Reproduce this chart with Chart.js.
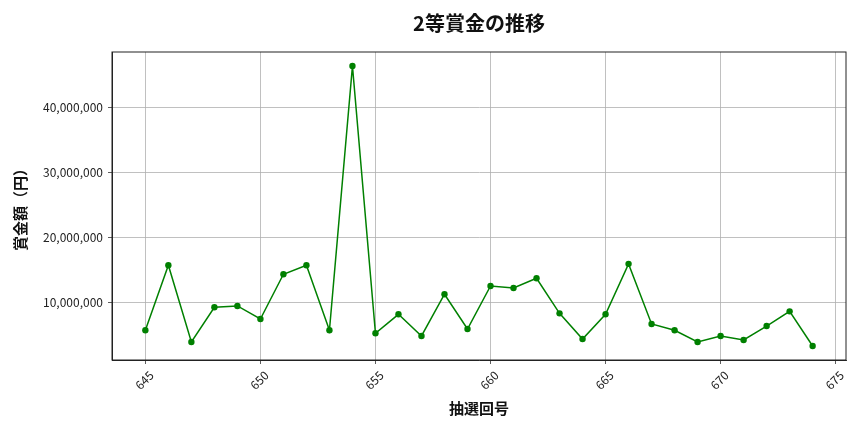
<!DOCTYPE html>
<html><head><meta charset="utf-8">
<script src="https://cdn.jsdelivr.net/npm/chart.js@4"></script>
<style>html,body{margin:0;padding:0;background:#fff}#wrap{width:864px;height:432px}</style>
</head><body><div id="wrap"><canvas id="c"></canvas></div>
<script>
const draws = [645,646,647,648,649,650,651,652,653,654,655,656,657,658,659,660,661,662,663,664,665,666,667,668,669,670,671,672,673,674];
const prizes = [5690000,15690000,3890000,9230000,9430000,7430000,14300000,15690000,5690000,46300000,5230000,8150000,4820000,11230000,5890000,12500000,12200000,13690000,8300000,4350000,8150000,15900000,6660000,5690000,3890000,4820000,4200000,6350000,8600000,3280000];
const xTicks = [645,650,655,660,665,670,675];
const yTicks = [10000000,20000000,30000000,40000000];
const titleText = '2等賞金の推移';
const xTitle = '抽選回号';
const yTitle = '賞金額（円）';

const FONT = "'Noto Sans CJK JP', 'Noto Sans', sans-serif";
const frame = {
  id: 'frame',
  afterDraw(chart) {
    const a = chart.chartArea, ctx = chart.ctx;
    ctx.save(); ctx.strokeStyle = '#222'; ctx.lineWidth = 1;
    ctx.strokeRect(a.left, a.top, a.right - a.left, a.bottom - a.top);
    ctx.restore();
  }
};
const xMin = 645 - 0.05 * (674 - 645), xMax = 674 + 0.05 * (674 - 645);
const yLo = Math.min(...prizes), yHi = Math.max(...prizes);
const yMin = yLo - 0.05 * (yHi - yLo), yMax = yHi + 0.05 * (yHi - yLo);

new Chart(document.getElementById('c'), {
  type: 'line',
  data: {
    datasets: [{
      data: draws.map((d, i) => ({x: d, y: prizes[i]})),
      borderColor: '#008000', backgroundColor: '#008000',
      borderWidth: 1.5, pointRadius: 3.2, pointHoverRadius: 3.2,
      pointBorderWidth: 0, tension: 0, fill: false
    }]
  },
  options: {
    responsive: true, maintainAspectRatio: false, animation: false,
    layout: {padding: {left: 0, right: 18, top: 0, bottom: 0}},
    plugins: {
      legend: {display: false}, tooltip: {enabled: false},
      title: {display: true, text: titleText, color: '#111', fullSize: false,
        font: {family: FONT, size: 20, weight: 'bold'}, padding: {top: 11, bottom: 17}}
    },
    scales: {
      x: {
        type: 'linear', min: xMin, max: xMax,
        afterBuildTicks: s => { s.ticks = xTicks.map(v => ({value: v})); },
        afterFit: s => { s.height = 72; },
        grid: {color: '#b0b0b0', lineWidth: 0.8, tickColor: '#333', tickLength: 4},
        border: {display: true, color: '#222', width: 1},
        ticks: {color: '#222', font: {family: FONT, size: 12}, minRotation: 45, maxRotation: 45,
          padding: 4, labelOffset: 6, callback: v => String(v)},
        title: {display: true, text: xTitle, color: '#111',
          font: {family: FONT, size: 15, weight: 'bold'}, padding: {top: 0, bottom: 15}}
      },
      y: {
        type: 'linear', min: yMin, max: yMax,
        afterBuildTicks: s => { s.ticks = yTicks.map(v => ({value: v})); },
        afterFit: s => { s.width = 112; },
        grid: {color: '#b0b0b0', lineWidth: 0.8, tickColor: '#333', tickLength: 4},
        border: {display: true, color: '#222', width: 1},
        ticks: {color: '#222', font: {family: FONT, size: 12}, padding: 5,
          callback: v => Number(v).toLocaleString('en-US')},
        title: {display: true, text: yTitle, color: '#111',
          font: {family: FONT, size: 15, weight: 'bold'}, padding: {top: 11, bottom: 0}}
      }
    }
  },
  plugins: [frame]
});
</script></body></html>
